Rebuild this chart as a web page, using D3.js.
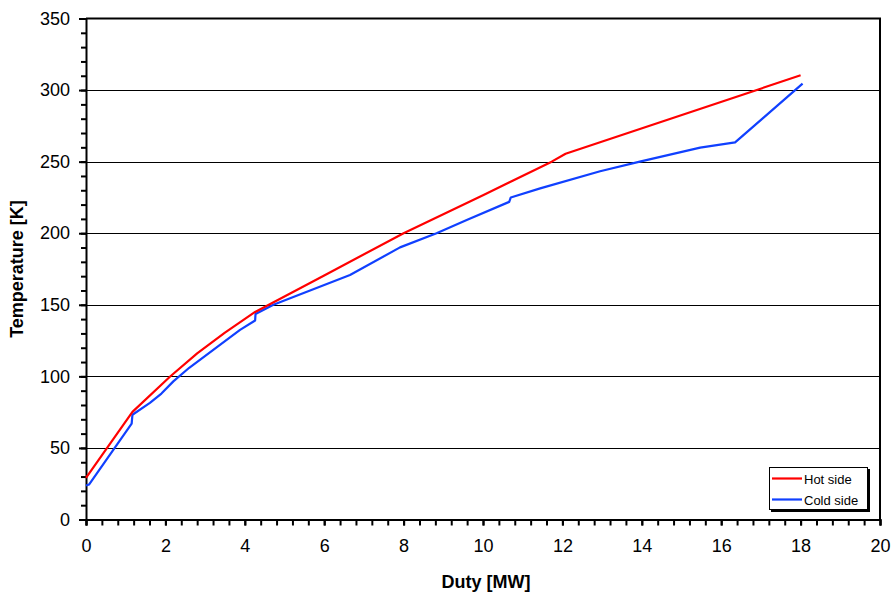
<!DOCTYPE html>
<html><head><meta charset="utf-8">
<script src="https://cdn.jsdelivr.net/npm/d3@7"></script>
<style>
html,body{margin:0;padding:0;background:#fff;}
svg{display:block;font-family:"Liberation Sans",Arial,sans-serif;}
</style></head>
<body><svg id="c" width="894" height="597"></svg>
<script>
// Data (Duty [MW], Temperature [K])
const hotDuty  = [0, 1.17, 2.12, 2.8, 3.5, 4.26, 6.0, 8.0, 10.0, 11.73, 12.08, 18.0];
const hotTemp  = [29, 75.2, 99.9, 116, 130.5, 145.0, 170.5, 200, 226.5, 250, 255.5, 310.3];
const coldDuty = [0, 0.08, 1.15, 1.17, 1.61, 1.9, 2.2, 2.6, 3.88, 4.26, 4.27, 4.72, 6.65, 7.91, 8.83, 9.59, 10.66, 10.7, 11.44, 12.95, 13.95, 15.47, 16.35, 18.05];
const coldTemp = [23.7, 24.5, 67, 73.2, 81.5, 88, 96.5, 106, 132.5, 139, 143.5, 150, 170.8, 190.1, 200, 209.2, 221.9, 225, 231.3, 243.3, 250, 259.8, 263.5, 304.5];
const xMajorTicks = [0, 2, 4, 6, 8, 10, 12, 14, 16, 18, 20];
const yMajorTicks = [0, 50, 100, 150, 200, 250, 300, 350];
const gridValues = [50, 100, 150, 200, 250, 300];
const seriesNames = ["Hot side", "Cold side"];
const seriesColors = ["#ff0000", "#1040ff"];

const svg = d3.select("#c");
const L = 86, R = 880, T = 18.5, B = 519.5;
const x = d3.scaleLinear().domain([0, 20]).range([L, R]);
const y = d3.scaleLinear().domain([0, 350]).range([B, T]);

// gridlines
svg.append("g").selectAll("line").data(gridValues).join("line")
  .attr("x1", L).attr("x2", R)
  .attr("y1", d => Math.round(y(d)) + 0.5).attr("y2", d => Math.round(y(d)) + 0.5)
  .attr("stroke", "#000").attr("stroke-width", 1);

// frame top & right
svg.append("line").attr("x1", L).attr("x2", R + 1).attr("y1", T).attr("y2", T).attr("stroke", "#000").attr("stroke-width", 2);
svg.append("line").attr("x1", R).attr("x2", R).attr("y1", T).attr("y2", B).attr("stroke", "#000").attr("stroke-width", 2);

// minor ticks
const xMinor = d3.range(0, 20.001, 0.4);
const yMinor = d3.range(0, 350.001, 10);
const xMinorAxis = svg.append("g").attr("transform", `translate(0,${B})`)
  .call(d3.axisBottom(x).tickValues(xMinor).tickSize(6).tickFormat(""));
const yMinorAxis = svg.append("g").attr("transform", `translate(${L},0)`)
  .call(d3.axisLeft(y).tickValues(yMinor).tickSize(5).tickFormat(""));
[xMinorAxis, yMinorAxis].forEach(g => {
  g.select(".domain").remove();
  g.selectAll("line").attr("stroke", "#000").attr("stroke-width", 2);
});

// major axes with labels
const xAxis = svg.append("g").attr("transform", `translate(0,${B})`)
  .call(d3.axisBottom(x).tickValues(xMajorTicks).tickSize(6).tickPadding(14).tickFormat(d3.format("d")));
const yAxis = svg.append("g").attr("transform", `translate(${L},0)`)
  .call(d3.axisLeft(y).tickValues(yMajorTicks).tickSize(7).tickPadding(9).tickFormat(d3.format("d")));
[xAxis, yAxis].forEach(g => {
  g.select(".domain").attr("stroke", "#000").attr("stroke-width", 2);
  g.selectAll("line").attr("stroke", "#000").attr("stroke-width", 2);
  g.selectAll("text").attr("fill", "#000").style("font-size", "18px")
    .style("font-family", "'Liberation Sans', Arial, sans-serif");
});

// axis titles
svg.append("text").attr("x", (L + R) / 2 + 3).attr("y", 588).attr("text-anchor", "middle")
  .style("font-size", "18px").style("font-weight", "bold").text("Duty [MW]");
svg.append("text").attr("transform", `translate(23,${(T + B) / 2}) rotate(-90)`)
  .attr("text-anchor", "middle").style("font-size", "18px").style("font-weight", "bold").text("Temperature [K]");

// lines
const line = d3.line().x(d => x(d[0])).y(d => y(d[1]));
const hot = hotDuty.map((d, i) => [d, hotTemp[i]]);
const cold = coldDuty.map((d, i) => [d, coldTemp[i]]);
svg.append("path").datum(cold).attr("d", line).attr("fill", "none")
  .attr("stroke", seriesColors[1]).attr("stroke-width", 2.2).attr("stroke-linejoin", "round");
svg.append("path").datum(hot).attr("d", line).attr("fill", "none")
  .attr("stroke", seriesColors[0]).attr("stroke-width", 2.2).attr("stroke-linejoin", "round");

// legend
const lg = svg.append("g").attr("transform", "translate(769,467)");
lg.append("rect").attr("x", 2).attr("y", 2).attr("width", 99).attr("height", 43).attr("fill", "#000");
lg.append("rect").attr("x", 0.5).attr("y", 0.5).attr("width", 98).attr("height", 42)
  .attr("fill", "#fff").attr("stroke", "#000").attr("stroke-width", 1);
seriesNames.forEach((n, i) => {
  const yy = 11.5 + i * 21;
  lg.append("line").attr("x1", 3).attr("x2", 33).attr("y1", yy).attr("y2", yy)
    .attr("stroke", seriesColors[i]).attr("stroke-width", 2.2);
  lg.append("text").attr("x", 35).attr("y", yy + 5).style("font-size", "13px").text(n);
});
</script></body></html>
